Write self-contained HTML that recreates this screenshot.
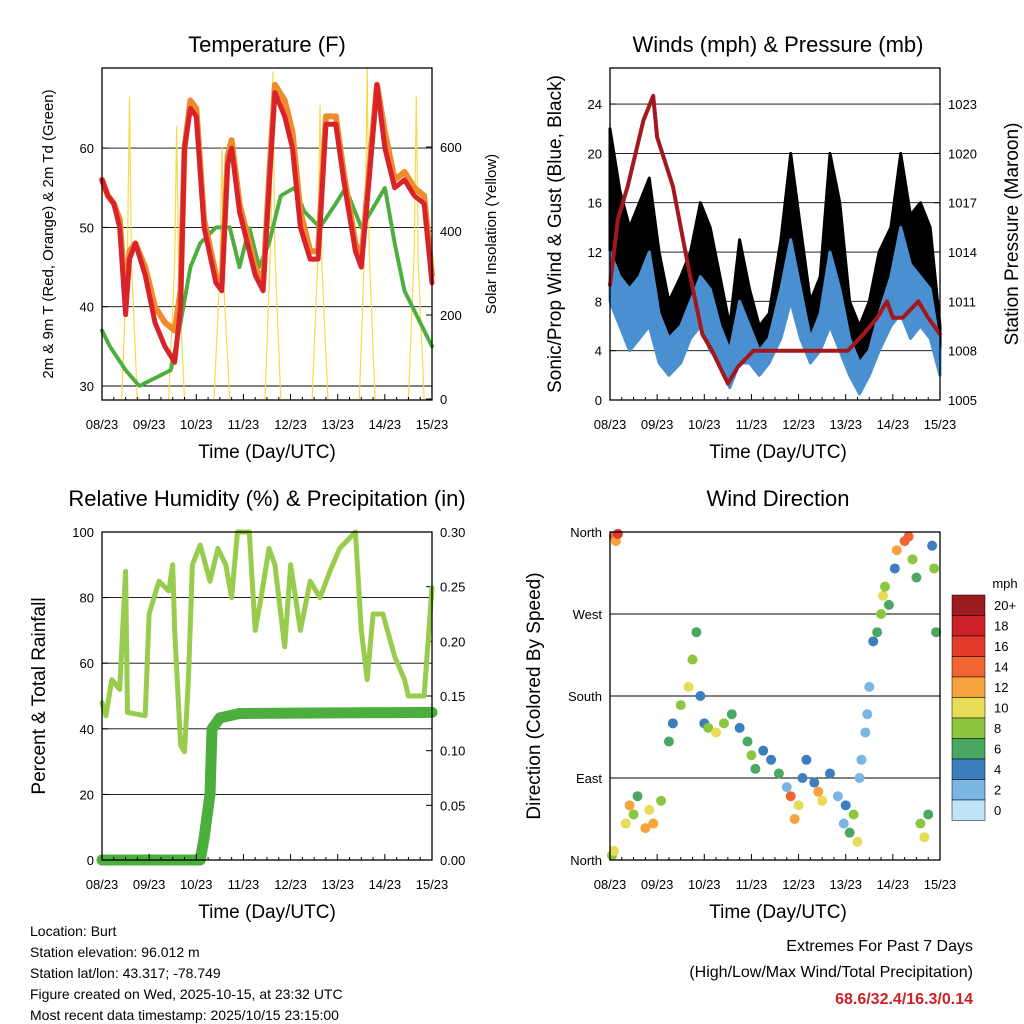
<!DOCTYPE html>
<html><head><meta charset="utf-8"><style>
body{margin:0;background:#fff}
svg{display:block;font-family:"Liberation Sans",sans-serif}
</style></head><body>
<svg id="s" width="1024" height="1024" viewBox="0 0 1024 1024" xmlns="http://www.w3.org/2000/svg">
<rect width="1024" height="1024" fill="#fff"/>
<g id="g"></g>
</svg>
<script>
// ---------- data ----------
const dayLabels=["08/23","09/23","10/23","11/23","12/23","13/23","14/23","15/23"];
const tempHours=[0,3,6,9,12,14,17,22,27,32,37,40,42,45,48,52,58,61,64,66,70,78,82,85,88,93,97,101,106,110,114,119,123,129,132,136,140,144,149,154,159,164,168];
const tempRed=[56,54,53,50,39,46,48,44,38,35,33,40,60,65,64,50,43,42,58,60,52,44,42,55,67,64,60,50,46,46,63,63,56,47,45,56,68,60,55,56,54,53,43];
const tempOrange=[56,54,53,51,41,47,48,45,40,38,37,42,60,66,65,51,44,43,59,61,53,45,43,56,68,66,62,52,47,47,64,64,57,48,46,57,68,62,56,57,55,54,44];
const tdHours=[0,4,12,19,27,35,40,45,50,58,65,70,75,80,85,91,98,103,111,119,124,132,137,144,149,154,162,168];
const tdVals=[37,35,32,30,31,32,38,45,48,50,50,45,50,45,48,54,55,52,50,53,55,50,52,55,48,42,38,35];
const solarPeakHours=[14,38,61,87,111,135,160];
const solarPeakVals=[720,650,600,780,700,790,720];
const presHours=[0,4,9,17,22,24,32,40,47,52,60,65,73,80,91,101,111,121,129,136,141,144,149,157,162,168];
const presVals=[1012,1016,1018,1022,1023.5,1021,1018,1013,1009,1008,1006,1007,1008,1008,1008,1008,1008,1008,1009,1010,1011,1010,1010,1011,1010,1009];
const windHours=[0,5,10,15,20,25,30,36,41,46,51,56,61,66,71,76,81,87,92,97,102,107,112,117,122,127,132,137,143,148,153,158,163,168];
const gustMax=[22,17,14,16,18,12,8,10,12,16,14,10,6,13,9,6,7,13,20,14,8,10,20,16,8,6,8,12,14,20,15,16,14,6];
const sonicMax=[12,10,9,10,12,7,5,6,8,10,9,6,4,8,6,4,5,9,13,9,5,7,12,9,5,3,4,7,10,14,11,10,9,4];
const sonicMin=[8,6,4,5,6,3,2,3,5,6,4,3,1,3,3,2,3,5,8,5,3,4,6,4,2,0.5,2,4,6,7,5,6,5,2];
const rhHours=[0,2,5,9,12,13,22,24,29,34,36,37,40,42,44,46,50,55,59,63,66,69,75,78,81,85,88,93,96,101,106,111,116,121,129,132,135,138,143,149,154,156,164,168];
const rhVals=[48,44,55,52,88,45,44,75,85,82,90,70,35,33,55,90,96,85,95,90,80,100,100,70,80,95,90,65,90,70,85,80,88,95,100,70,55,75,75,62,55,50,50,83];
const prHours=[0,50,52,55,56,60,70,168];
const prVals=[0,0,0.02,0.06,0.12,0.13,0.134,0.135];
const dirHours=[2,3,4,1,2,8,10,12,14,18,20,22,26,30,32,36,40,42,44,46,48,50,54,58,62,66,70,72,74,78,82,86,90,92,94,96,98,100,104,106,108,112,116,119,120,122,124,126,127,128,130,131,132,134,136,138,139,140,142,145,146,150,152,154,156,158,160,162,164,165,166];
const dirDeg=[355,350,358,5,10,40,60,50,70,35,55,40,65,130,150,170,190,220,250,180,150,145,140,150,160,145,130,115,100,120,110,95,80,70,45,60,90,110,85,75,65,95,70,40,60,30,50,20,90,110,140,160,190,240,250,270,290,300,280,320,340,350,355,330,310,40,25,50,345,320,250];
const dirSpd=[14,12,16,8,10,10,12,8,6,12,10,12,8,6,4,8,10,8,6,4,4,8,10,8,6,4,6,8,6,4,4,6,2,14,12,10,4,4,4,12,10,4,2,2,4,6,8,10,2,2,2,2,2,4,6,8,10,8,6,4,12,14,14,8,6,8,10,6,4,8,6];
const speedLevels=["20+","18","16","14","12","10","8","6","4","2","0"];
const speedColors=["#9b1b1f","#cc2128","#e23a2c","#f0652f","#f6a33e","#e7dc57","#8cc63f","#4ba862","#3d7fbe","#7bb5e2","#c0e4f8"];

// ---------- helpers ----------
const NS="http://www.w3.org/2000/svg";
const G=document.getElementById('g');
function el(t,a,p){const e=document.createElementNS(NS,t);for(const k in a)e.setAttribute(k,a[k]);(p||G).appendChild(e);return e;}
function txt(x,y,s,size,anchor,extra){const e=el('text',Object.assign({x:x,y:y,'font-size':size,'text-anchor':anchor||'middle',fill:'#000'},extra||{}));e.textContent=s;return e;}
function panel(x0,y0,x1,y1){return {x0,y0,x1,y1,X:h=>x0+(x1-x0)*h/168};}
function frame(p,name){
  const r=el('rect',{x:p.x0,y:p.y0,width:p.x1-p.x0,height:p.y1-p.y0,fill:'none',stroke:'#000','stroke-width':1.3});
  
  
  dayLabels.forEach((d,i)=>{const x=p.X(i*24);
    el('line',{x1:x,y1:p.y1,x2:x,y2:p.y1-6,stroke:'#000'});
    const t=txt(x,p.y1+29,d,13);
    
    
  });
  for(let h=6;h<168;h+=6){if(h%24)el('line',{x1:p.X(h),y1:p.y1,x2:p.X(h),y2:p.y1-3,stroke:'#000'});}
}
function yaxis(p,vals,Y,fmt,side,grid,name){
  vals.forEach(v=>{const y=Y(v);
    if(grid)el('line',{x1:p.x0,y1:y,x2:p.x1,y2:y,stroke:'#000','stroke-width':0.9});
    const x=side==='l'?p.x0:p.x1;
    el('line',{x1:x,y1:y,x2:side==='l'?x+6:x-6,y2:y,stroke:'#000'});
    const t=txt(side==='l'?p.x0-8:p.x1+8,y+5,fmt(v),13,side==='l'?'end':'start');
    
    
  });
}
function poly(xs,ys,X,Y,stroke,w,name){
  const pts=xs.map((h,i)=>X(h).toFixed(1)+','+Y(ys[i]).toFixed(1)).join(' ');
  const e=el('polyline',{points:pts,fill:'none',stroke:stroke,'stroke-width':w,'stroke-linejoin':'round','stroke-linecap':'round'});
  
  
  return e;
}
function band(xs,hi,lo,X,Y,fill,name){
  const a=xs.map((h,i)=>X(h).toFixed(1)+','+Y(hi[i]).toFixed(1));
  const b=xs.map((h,i)=>X(h).toFixed(1)+','+Y(lo[i]).toFixed(1)).reverse();
  const e=el('polygon',{points:a.concat(b).join(' '),fill:fill,stroke:fill,'stroke-width':3,'stroke-linejoin':'round'});
  
  
  return e;
}
function label(x,y,s,size,rot,name,extra){const t=txt(x,y,s,size,'middle',Object.assign(rot?{transform:`rotate(${rot} ${x} ${y})`}:{},extra||{}));return t;}

// ---------- Temperature ----------
(function(){
  const p=panel(102,68,432,400);
  const Y=v=>386-(v-30)*7.93, YS=v=>399-v*0.42;
  yaxis(p,[30,40,50,60],Y,v=>v,'l',true,'temp-y-tick');
  yaxis(p,[0,200,400,600],YS,v=>v,'r',false,'solar-y-tick');
  solarPeakHours.forEach((h,i)=>{
    const e=el('polyline',{points:`${p.X(h-4)},${YS(0)} ${p.X(h-1)},${YS(solarPeakVals[i]*0.5)} ${p.X(h)},${YS(solarPeakVals[i])} ${p.X(h+1)},${YS(solarPeakVals[i]*0.45)} ${p.X(h+4)},${YS(0)}`,fill:'none',stroke:'#f7d84a','stroke-width':1.2});
    
    
  });
  poly(tdHours,tdVals,p.X,Y,'#4cae3c',4,'dewpoint-line').setAttribute('stroke-dasharray','2 2');
  poly(tempHours,tempOrange,p.X,Y,'#f08a2a',6,'temp-9m-line');
  poly(tempHours,tempRed,p.X,Y,'#d8232a',5,'temp-2m-line');
  frame(p,'temp');
  label(267,52,'Temperature (F)',22,0,'temp-title');
  label(267,458,'Time (Day/UTC)',19,0,'temp-x-title');
  label(53,234,'2m & 9m T (Red, Orange) & 2m Td (Green)',15,-90,'temp-y-title');
  label(496,234,'Solar Insolation (Yellow)',15,-90,'solar-y-title');
})();

// ---------- Winds ----------
(function(){
  const p=panel(610,68,940,400);
  const Y=v=>400-v*12.33, YP=v=>400-(v-1005)*16.44;
  yaxis(p,[0,4,8,12,16,20,24],Y,v=>v,'l',true,'wind-y-tick');
  yaxis(p,[1005,1008,1011,1014,1017,1020,1023],YP,v=>v,'r',false,'pressure-y-tick');
  band(windHours,gustMax,sonicMax,p.X,Y,'#000','gust-band');
  band(windHours,sonicMax,sonicMin,p.X,Y,'#4a90d0','sonic-band');
  poly(presHours,presVals,p.X,YP,'#a3181c',4,'pressure-line');
  frame(p,'wind');
  label(778,52,'Winds (mph) & Pressure (mb)',22,0,'wind-title');
  label(778,458,'Time (Day/UTC)',19,0,'wind-x-title');
  label(561,234,'Sonic/Prop Wind & Gust (Blue, Black)',19,-90,'wind-y-title');
  label(1018,234,'Station Pressure (Maroon)',19,-90,'pressure-y-title');
})();

// ---------- RH ----------
(function(){
  const p=panel(102,532,432,860);
  const Y=v=>860-v*3.28, YR=v=>860-v*1093.3;
  yaxis(p,[0,20,40,60,80,100],Y,v=>v,'l',true,'rh-y-tick');
  yaxis(p,[0,0.05,0.1,0.15,0.2,0.25,0.3],YR,v=>v.toFixed(2),'r',false,'precip-y-tick');
  poly(rhHours,rhVals,p.X,Y,'#98cc4c',5,'rh-line');
  poly(prHours,prVals,p.X,YR,'#4cae3c',11,'precip-line');
  frame(p,'rh');
  label(267,506,'Relative Humidity (%) & Precipitation (in)',22,0,'rh-title');
  label(267,918,'Time (Day/UTC)',19,0,'rh-x-title');
  label(45,696,'Percent & Total Rainfall',19,-90,'rh-y-title');
})();

// ---------- Wind direction ----------
(function(){
  const p=panel(610,532,940,860);
  const Y=v=>860-v*328/360;
  const names={0:'North',90:'East',180:'South',270:'West',360:'North'};
  yaxis(p,[0,90,180,270,360],Y,v=>names[v],'l',true,'dir-y-tick');
  function col(s){let i=10-Math.min(10,Math.round(s/2));return speedColors[i];}
  dirHours.forEach((h,i)=>{
    const c=el('circle',{cx:p.X(h),cy:Y(dirDeg[i]),r:5,fill:col(dirSpd[i])});
    
    
  });
  frame(p,'dir');
  label(778,506,'Wind Direction',22,0,'dir-title');
  label(778,918,'Time (Day/UTC)',19,0,'dir-x-title');
  label(540,696,'Direction (Colored By Speed)',19,-90,'dir-y-title');
  const t=txt(1005,588,'mph',13,'middle');
  
  
  speedLevels.forEach((s,i)=>{
    const y=595+i*20.5;
    const r=el('rect',{x:952,y:y,width:33,height:20.5,fill:speedColors[i],stroke:'#000','stroke-width':0.5});
    
    
    const l=txt(994,y+15,s,13,'start');
    
    
  });
})();

// ---------- footer ----------
["Location: Burt","Station elevation: 96.012 m","Station lat/lon: 43.317; -78.749","Figure created on Wed, 2025-10-15, at 23:32 UTC","Most recent data timestamp: 2025/10/15 23:15:00"].forEach((s,i)=>{
  const t=txt(30,936+i*21,s,14,'start');
  
  
});
const e1=txt(973,951,'Extremes For Past 7 Days',16,'end');


const e2=txt(973,977,'(High/Low/Max Wind/Total Precipitation)',16,'end');


const e3=txt(973,1004,'68.6/32.4/16.3/0.14',16,'end',{fill:'#cc2128','font-weight':'bold'});


</script>
</body></html>
